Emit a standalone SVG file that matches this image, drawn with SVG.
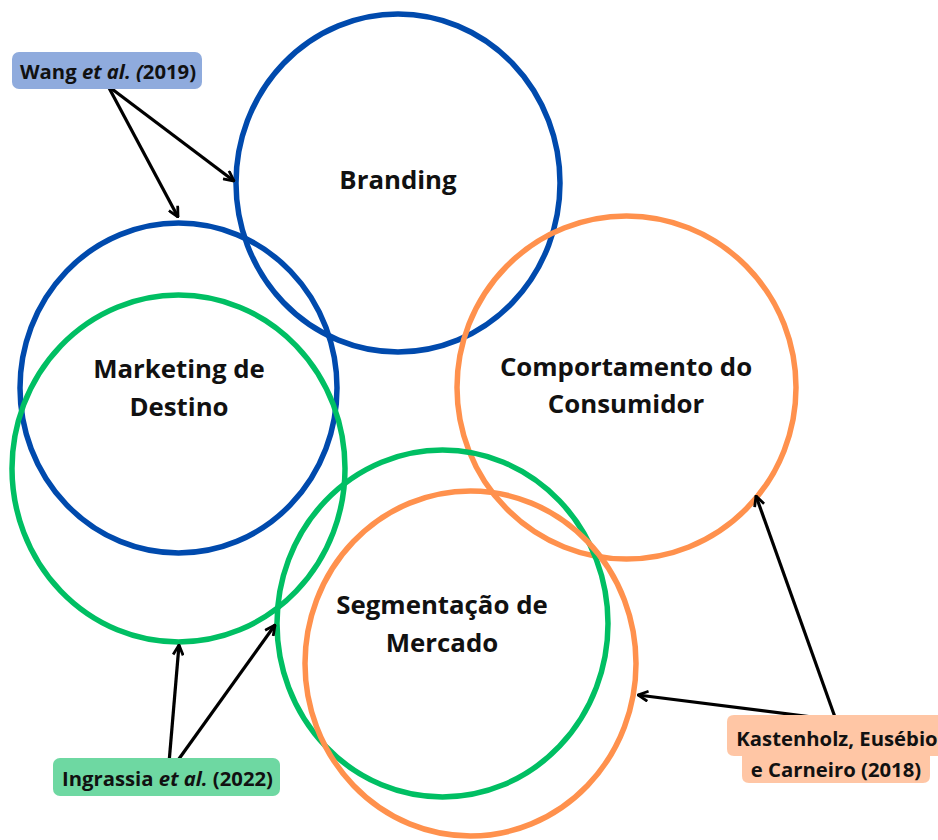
<svg xmlns="http://www.w3.org/2000/svg" width="938" height="840" viewBox="0 0 938 840">
  <style>
    .ring { fill: none; stroke-width: 5.5; }
    .blue { stroke: #004AAD; }
    .green { stroke: #00BF63; }
    .orange { stroke: #FF914D; }
    .title { font-family: "Open Sans", "Noto Sans", "Liberation Sans", sans-serif; font-weight: 700; font-size: 25.8px; fill: #111; text-anchor: middle; }
    .ref { font-family: "Open Sans", "Noto Sans", "Liberation Sans", sans-serif; font-weight: 700; font-size: 20.3px; fill: #111; }
    .link { stroke: #000; stroke-width: 3.2; fill: none; marker-end: url(#head); }
  </style>
  <defs>
    <marker id="head" viewBox="0 0 12 12" refX="11" refY="6" markerWidth="12" markerHeight="12" markerUnits="userSpaceOnUse" orient="auto">
      <path d="M1,1 L11,6 L1,11" fill="none" stroke="#000" stroke-width="2.8" stroke-linejoin="miter"/>
    </marker>
  </defs>
  <rect width="938" height="840" fill="#fff"/>

  <g id="branding">
    <ellipse class="ring blue" cx="398" cy="183" rx="162" ry="169"/>
    <text class="title" x="398" y="189">Branding</text>
  </g>
  <g id="marketing-destino">
    <ellipse class="ring blue" cx="178.5" cy="388" rx="158.5" ry="165"/>
    <text class="title" x="179" y="378">Marketing de</text>
    <text class="title" x="179" y="416">Destino</text>
  </g>
  <g id="marketing-destino-outer">
    <ellipse class="ring green" cx="178.5" cy="468.5" rx="166.5" ry="173.5"/>
  </g>
  <g id="comportamento">
    <ellipse class="ring orange" cx="626.5" cy="387.5" rx="169.5" ry="171.5"/>
    <text class="title" x="626" y="376">Comportamento do</text>
    <text class="title" x="626" y="413">Consumidor</text>
  </g>
  <g id="segmentacao-green">
    <ellipse class="ring green" cx="442.5" cy="623.5" rx="165.5" ry="173.5"/>
  </g>
  <g id="segmentacao">
    <ellipse class="ring orange" cx="470.5" cy="663.5" rx="165.5" ry="172.5"/>
    <text class="title" x="442" y="614">Segmentação de</text>
    <text class="title" x="442" y="652">Mercado</text>
  </g>

  <g id="connectors">
    <line class="link" x1="108" y1="86" x2="234" y2="181"/>
    <line class="link" x1="108" y1="86" x2="178" y2="217"/>
    <line class="link" x1="169" y1="763" x2="179" y2="645"/>
    <line class="link" x1="176" y1="763" x2="275" y2="625"/>
    <line class="link" x1="836" y1="720" x2="756" y2="496"/>
    <line class="link" x1="836" y1="720" x2="638" y2="695"/>
  </g>

  <g id="ref-wang">
    <rect x="12" y="52" width="190" height="37" rx="7" fill="#8FABDD"/>
    <text class="ref" x="20" y="79">Wang <tspan font-style="italic">et al. (</tspan>2019)</text>
  </g>
  <g id="ref-ingrassia">
    <rect x="53" y="758" width="227" height="38" rx="7" fill="#6ED8A2"/>
    <text class="ref" x="62" y="786">Ingrassia <tspan font-style="italic">et al.</tspan> (2022)</text>
  </g>
  <g id="ref-kastenholz">
    <path d="M734,715 H938 V756 H930 V776 Q930,783 923,783 H749 Q742,783 742,776 V756 H734 Q727,756 727,749 V722 Q727,715 734,715 Z" fill="#FFC6A5"/>
    <text class="ref" x="837" y="746" text-anchor="middle">Kastenholz, Eusébio</text>
    <text class="ref" x="836" y="777" text-anchor="middle">e Carneiro (2018)</text>
  </g>
</svg>
